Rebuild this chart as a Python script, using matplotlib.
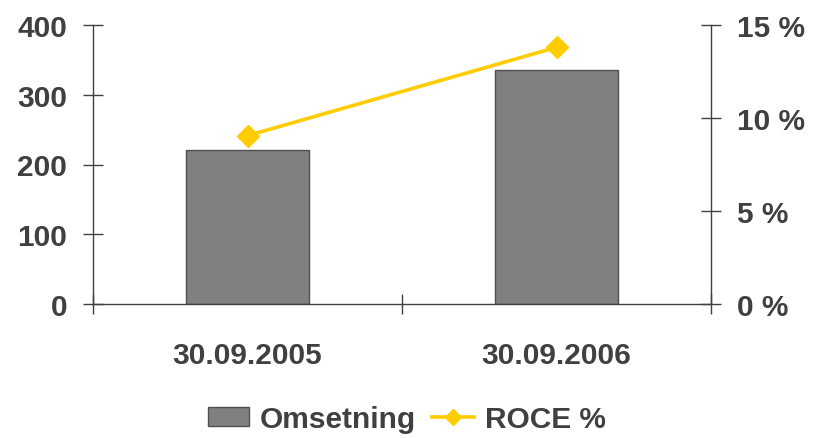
import matplotlib
matplotlib.use("Agg")
import matplotlib.pyplot as plt
from matplotlib.patches import Patch
from matplotlib.lines import Line2D
from matplotlib.ticker import FuncFormatter

categories = ["30.09.2005", "30.09.2006"]
omsetning = [221, 336]
roce = [9.05, 13.8]
left_ticks = [0, 100, 200, 300, 400]
right_ticks = [0, 5, 10, 15]

plt.rcParams['font.family'] = ['Liberation Sans', 'DejaVu Sans']
txt = '#404040'
fs = 21.5
fig = plt.figure(figsize=(8.13, 4.39), dpi=100)
ax = fig.add_axes([93/813, 1-305/439, (711-93)/813, (305-26)/439])
x = list(range(len(categories)))
ax.bar(x, omsetning, width=0.40, color='#808080', edgecolor='#505050', linewidth=1, zorder=2)
ax.set_xlim(-0.5, 1.5)
ax.set_ylim(0, 400)
ax.set_yticks(left_ticks)
ax.set_xticks([-0.5, 0.5, 1.5])
ax.set_xticklabels([])
ax.set_xticks(x, minor=True)
ax.set_xticklabels(categories, minor=True)
ax.tick_params(axis='x', which='minor', length=0, pad=27, labelsize=fs, labelcolor=txt)
ax.tick_params(axis='x', which='major', direction='inout', length=15, width=1, color='#404040')
ax.tick_params(axis='y', direction='inout', length=15, width=1, color='#404040', labelsize=fs, labelcolor=txt, pad=11)
for lab in ax.get_yticklabels() + ax.get_xticklabels(minor=True):
    lab.set_fontweight('bold')
for s in ['top', 'right']:
    ax.spines[s].set_visible(False)
for s in ['left', 'bottom']:
    ax.spines[s].set_color('#404040')
    ax.spines[s].set_linewidth(1)

ax2 = ax.twinx()
ax2.plot(x, roce, color='#FFCC00', lw=2.6, marker='D', markersize=11.5, zorder=3)
ax2.set_ylim(0, 15)
ax2.set_yticks(right_ticks)
ax2.yaxis.set_major_formatter(FuncFormatter(lambda v, p: f"{int(v)} %"))
ax2.tick_params(axis='y', direction='inout', length=15, width=1, color='#404040', labelsize=fs, labelcolor=txt, pad=11)
for lab in ax2.get_yticklabels():
    lab.set_fontweight('bold')
for s in ['top', 'left', 'bottom']:
    ax2.spines[s].set_visible(False)
ax2.spines['right'].set_color('#404040')
ax2.spines['right'].set_linewidth(1)

handles = [Patch(facecolor='#808080', edgecolor='#505050', label='Omsetning'),
           Line2D([0], [0], color='#FFCC00', lw=2.6, marker='D', markersize=8, label='ROCE %')]
leg = fig.legend(handles=handles, loc='center', bbox_to_anchor=(0.5, 1-420/439), ncol=2,
                 frameon=False, prop={'size': fs, 'weight': 'bold'}, handlelength=1.4,
                 handleheight=0.65, handletextpad=0.35, columnspacing=0.55)
for t in leg.get_texts():
    t.set_color(txt)

fig.savefig("out.png", dpi=100)
